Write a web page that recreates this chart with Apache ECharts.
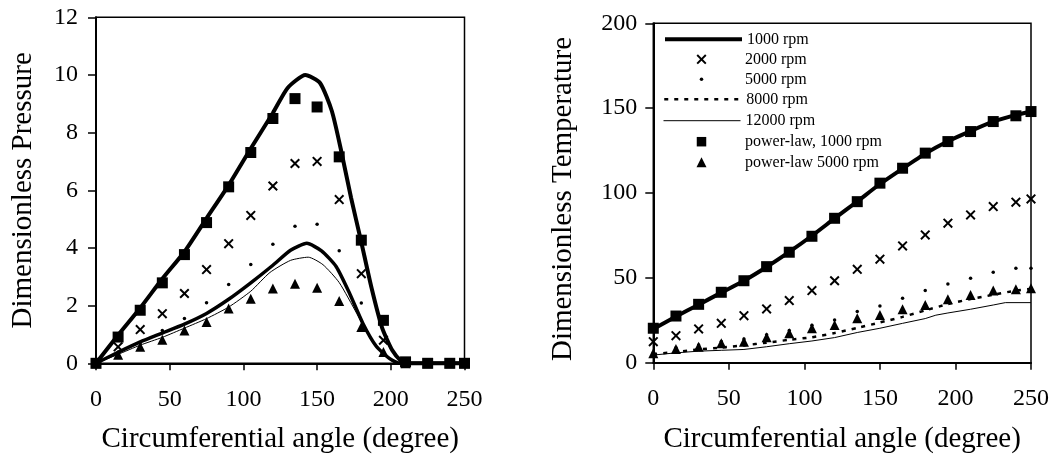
<!DOCTYPE html>
<html><head><meta charset="utf-8">
<script src="https://cdn.jsdelivr.net/npm/echarts@6/dist/echarts.min.js"></script>
<style>html,body{margin:0;padding:0;background:#fff}#c{width:1059px;height:463px}</style>
</head><body><div id="c"></div>
<script>
// ---------- data ----------
const angles = [0,15,30,45,60,75,90,105,120,135,150,165,180,195,210,225,240,250];
const xTicks = [0,50,100,150,200,250];

// Left panel: dimensionless pressure
const pPowerLaw1000 = [0,0.91,1.84,2.79,3.77,4.88,6.12,7.31,8.49,9.18,8.89,7.16,4.27,1.49,0.05,0,0,0];
const p2000 = [0,0.57,1.17,1.72,2.42,3.25,4.15,5.13,6.15,6.93,7.0,5.68,3.11,0.8,0,0,0,0];
const p5000 = [0,0.38,0.7,1.14,1.55,2.1,2.73,3.43,4.13,4.75,4.82,3.9,2.09,0.4,0,0,0,0];
const pPowerLaw5000 = [0,0.3,0.57,0.82,1.14,1.43,1.9,2.24,2.59,2.76,2.62,2.16,1.26,0.39,0,0,0,0];
const p1000X = [0,15,30,45,60,75,90,105,120,130,142,152,160,166,173,180,187,194,201,207,211,250];
const p1000Y = [0,0.98,1.92,2.93,3.87,5.03,6.18,7.45,8.68,9.55,10.0,9.72,8.75,7.45,5.75,4.2,2.6,1.25,0.45,0.08,0,0];
const p8000X = [0,15,30,45,60,75,90,105,120,132,143,153,163,172,181,190,199,206,250];
const p8000Y = [0,0.38,0.74,1.05,1.36,1.73,2.22,2.79,3.4,3.92,4.16,3.9,3.35,2.43,1.39,0.6,0.17,0,0];
const p12000X = [0,15,30,45,60,75,90,105,118,132,144,154,165,177,188,200,206,250];
const p12000Y = [0,0.31,0.63,0.9,1.22,1.55,1.95,2.5,3.15,3.57,3.68,3.42,2.8,1.72,0.7,0.1,0,0];

// Right panel: dimensionless temperature
const tPowerLaw1000 = [20.3,27.5,34.4,41.5,48.3,56.6,65.1,74.5,85.1,94.9,105.8,114.6,123.5,130.3,136.2,142.1,145.5,148.0];
const t2000 = [12.4,15.9,19.9,23.2,27.7,31.7,36.6,42.5,48.3,55,61,68.8,75.3,82.2,87.1,92,94.6,96.5];
const t5000 = [6,8.8,10.5,12.5,14,16.5,19,22,25.2,30.1,33.4,38,42.5,46.4,49.8,53.3,55.7,55.7];
const tPowerLaw5000 = [5.5,8.1,9.4,11.4,12.4,15.0,17.3,20.3,22.2,26.2,28.1,31.5,34.0,37.4,39.9,42.5,43.3,43.9];
const t1000 = [19.8,27.2,34.2,41.3,48.3,56.4,65.3,74.8,85,95,105.3,114.4,123.2,130.5,136.5,142,146,148];
const t8000 = [5,6.3,7.8,8.9,10.2,11.8,13.5,15,17.5,20.5,23.7,27,30.8,34.5,37.5,40,42.5,43.5];
const t12000X = [0,15,30,45,60,75,90,105,120,135,150,165,180,187,195,210,225,233,250];
const t12000Y = [4.5,5.8,6.8,7.3,7.8,9.4,11.2,12.8,14.8,17.8,20.3,23.2,26,28,29.3,31.5,34,35.4,35.4];

const legendNames = ['1000 rpm','2000 rpm','5000 rpm','8000 rpm','12000 rpm','power-law, 1000 rpm','power-law 5000 rpm'];

// ---------- chart ----------
const FONT = "'Liberation Serif','Times New Roman',serif";
const zip = (xs, ys) => xs.map((x, i) => [x, ys[i]]);
const CROSS = 'path://M0,1.4L1.4,0L5,3.6L8.6,0L10,1.4L6.4,5L10,8.6L8.6,10L5,6.4L1.4,10L0,8.6L3.6,5Z';
const SQUARE = 'path://M0,0L10,0L10,10L0,10Z';
const TRI = 'path://M5,0L10,10L0,10Z';

function xAxis(grid) {
  return {
    gridIndex: grid, type: 'value', min: 0, max: 250, interval: 50,
    axisLine: { show: true, onZero: false, lineStyle: { color: '#000', width: 2 } },
    axisTick: { show: true, length: 7, lineStyle: { color: '#000', width: 1.5 } },
    axisLabel: { color: '#000', fontSize: 24, fontFamily: FONT, margin: 24,
      formatter: v => xTicks.includes(v) ? String(v) : '' },
    splitLine: { show: false },
    name: 'Circumferential angle (degree)', nameLocation: 'middle', nameGap: 62,
    nameTextStyle: { color: '#000', fontSize: 29, fontFamily: FONT }
  };
}
function yAxis(grid, max, interval, name, margin, gap, pad) {
  return {
    gridIndex: grid, type: 'value', min: 0, max: max, interval: interval,
    axisLine: { show: true, onZero: false, lineStyle: { color: '#000', width: 2 } },
    axisTick: { show: true, length: 8, lineStyle: { color: '#000', width: 1.5 } },
    axisLabel: { color: '#000', fontSize: 24, fontFamily: FONT, margin: margin },
    splitLine: { show: false },
    name: name, nameLocation: 'middle', nameGap: gap,
    nameTextStyle: { color: '#000', fontSize: 29, fontFamily: FONT, padding: pad }
  };
}
function line(name, grid, data, width, type, smooth) {
  return { type: 'line', name, xAxisIndex: grid, yAxisIndex: grid, data,
    symbol: 'none', smooth: smooth, clip: false,
    lineStyle: { color: '#000', width, type: type || 'solid' }, itemStyle: { color: '#000' }, z: 2 };
}
function scat(name, grid, data, symbol, size, z) {
  return { type: 'scatter', name, xAxisIndex: grid, yAxisIndex: grid, data,
    symbol, symbolSize: size, clip: false, itemStyle: { color: '#000', opacity: 1 }, z: z || 3 };
}

const series = [
  line('1000 rpm', 0, zip(p1000X, p1000Y), 4, 'solid', 0.2),
  line('8000 rpm', 0, zip(p8000X, p8000Y), 3.5, 'solid', 0.2),
  line('12000 rpm', 0, zip(p12000X, p12000Y), 1, 'solid', 0.2),
  scat('2000 rpm', 0, zip(angles, p2000), CROSS, 10),
  scat('5000 rpm', 0, zip(angles, p5000), 'circle', 3.5),
  scat('power-law 5000 rpm', 0, zip(angles, pPowerLaw5000), TRI, 10),
  scat('power-law, 1000 rpm', 0, zip(angles, pPowerLaw1000), SQUARE, 11, 4),

  line('1000 rpm', 1, zip(angles, t1000), 4, 'solid', 0.2),
  line('8000 rpm', 1, zip(angles, t8000), 2.5, [4, 6], 0.2),
  line('12000 rpm', 1, zip(t12000X, t12000Y), 1, 'solid', false),
  scat('2000 rpm', 1, zip(angles, t2000), CROSS, 10),
  scat('5000 rpm', 1, zip(angles, t5000), 'circle', 3.5),
  scat('power-law 5000 rpm', 1, zip(angles, tPowerLaw5000), TRI, 10),
  scat('power-law, 1000 rpm', 1, zip(angles, tPowerLaw1000), SQUARE, 11, 4)
];

const rowY = [39.3, 59.3, 79.3, 99.3, 120.7, 141.7, 162.3];
const rowCfg = [
  { h: 10, lineStyle: { width: 4 } },
  { h: 10, icon: CROSS },
  { h: 3.5, icon: 'circle' },
  { h: 10, lineStyle: { width: 2.5, type: [4, 6] } },
  { h: 10, lineStyle: { width: 1 } },
  { h: 9.5, icon: SQUARE },
  { h: 10, icon: TRI }
];
const LEG_LEFT = 663, LEG_W = 77;
const legends = legendNames.map((n, i) => {
  const c = rowCfg[i];
  const item = { name: n };
  if (c.icon) item.icon = c.icon;
  const lg = {
    left: c.icon ? LEG_LEFT + (LEG_W - c.h) / 2 : LEG_LEFT,
    top: rowY[i] - 8, orient: 'vertical', padding: 0,
    itemWidth: LEG_W, itemHeight: c.h, selectedMode: false,
    data: [item],
    textStyle: { color: '#000', fontSize: 16, lineHeight: 16, fontFamily: FONT }
  };
  if (c.lineStyle) {
    lg.lineStyle = Object.assign({ color: '#000' }, c.lineStyle);
    lg.itemStyle = { color: 'rgba(0,0,0,0)', borderWidth: 0, opacity: 0 };
  }
  return lg;
});

const chart = echarts.init(document.getElementById('c'), null, { renderer: 'canvas' });
chart.setOption({
  animation: false,
  backgroundColor: '#fff',
  grid: [
    { left: 96, top: 17.3, width: 368.5, height: 346, show: true, borderColor: '#000', borderWidth: 1.5 },
    { left: 653.3, top: 23.3, width: 377.7, height: 339.4, show: true, borderColor: '#000', borderWidth: 1.5 }
  ],
  xAxis: [xAxis(0), xAxis(1)],
  yAxis: [
    yAxis(0, 12, 2, 'Dimensionless Pressure', 18, 58, 0),
    yAxis(1, 200, 50, 'Dimensionless Temperature', 16, 75, [0, 12, 0, 0])
  ],
  legend: legends,
  series: series
});
</script></body></html>
